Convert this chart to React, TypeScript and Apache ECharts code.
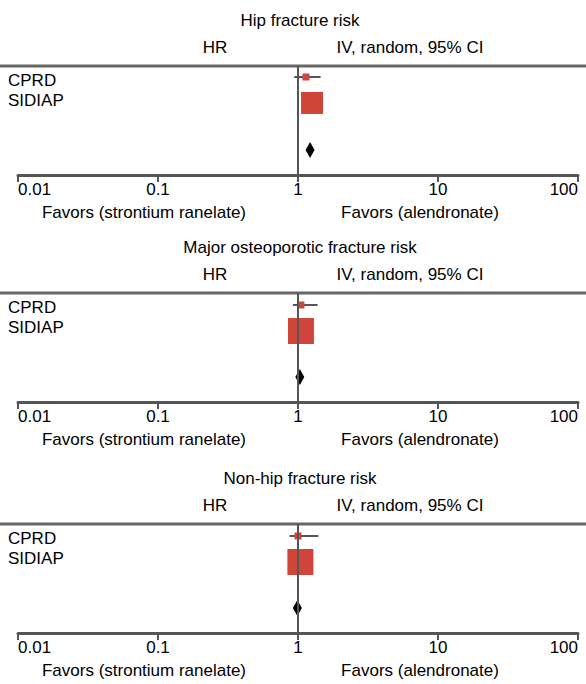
import React, { useEffect, useRef } from "react";
import * as echarts from "echarts";

const panelTitles = ["Hip fracture risk", "Major osteoporotic fracture risk", "Non-hip fracture risk"];
const studies = ["CPRD", "SIDIAP"];
// HR, lower CI, upper CI
const cprd = [[1.14, 0.94, 1.45], [1.05, 0.92, 1.38], [1.0, 0.87, 1.4]];
const sidiap = [1.26, 1.05, 1.04];
const sidiapSize = [22, 26, 26];
const pooled = [1.22, 1.03, 0.99];
const tickLabels = ["0.01", "0.1", "1", "10", "100"];

const tops = [66, 293, 524];
const H = 109;
const rowY = [[11, 37, 84], [12, 38, 84], [12, 38, 84]];
const font = "Arial, 'Liberation Sans', sans-serif";

export default function App() {
  const ref = useRef<HTMLDivElement>(null);
  useEffect(() => {
    const chart = echarts.init(ref.current!, null, { renderer: "svg" });
    const grids: any[] = [], xAxis: any[] = [], yAxis: any[] = [], series: any[] = [], graphic: any[] = [];
    tops.forEach((top, i) => {
      grids.push({ left: 18, right: 8, top, height: H });
      xAxis.push({
        type: "log", gridIndex: i, min: 0.01, max: 100, logBase: 10,
        axisLine: { onZero: false, lineStyle: { color: "#555", width: 3 } },
        axisTick: { show: true, length: 7, lineStyle: { color: "#555", width: 2 } },
        minorTick: { show: false }, splitLine: { show: false },
        axisLabel: { color: "#000", fontSize: 17, fontFamily: font, margin: 6,
          alignMinLabel: "left", alignMaxLabel: "right",
          formatter: (v: number) => tickLabels[Math.round(Math.log10(v)) + 2] },
      });
      yAxis.push({ type: "value", gridIndex: i, min: 0, max: H, inverse: true, show: false });
      const ys = rowY[i];
      series.push({
        type: "custom", xAxisIndex: i, yAxisIndex: i,
        data: [[cprd[i][0], ys[0], cprd[i][1], cprd[i][2]]],
        renderItem: (p: any, api: any) => {
          const c = api.coord([api.value(0), api.value(1)]);
          const l = api.coord([api.value(2), api.value(1)]);
          const r = api.coord([api.value(3), api.value(1)]);
          return { type: "group", children: [
            { type: "line", shape: { x1: l[0], y1: c[1], x2: r[0], y2: c[1] }, style: { stroke: "#555", lineWidth: 2 } },
            { type: "rect", shape: { x: c[0] - 3.5, y: c[1] - 3.5, width: 7, height: 7 }, style: { fill: "#d0453a" } },
          ] };
        },
        markLine: {
          silent: true, symbol: "none", label: { show: false },
          lineStyle: { color: "#555", width: 2, type: "solid" },
          data: [{ xAxis: 1 }],
        },
      });
      series.push({
        type: "scatter", xAxisIndex: i, yAxisIndex: i, symbol: "rect", symbolSize: sidiapSize[i],
        itemStyle: { color: "#d0453a", opacity: 1 }, data: [[sidiap[i], ys[1]]],
      });
      series.push({
        type: "scatter", xAxisIndex: i, yAxisIndex: i, symbol: "diamond", symbolSize: [9, 16],
        itemStyle: { color: "#000", opacity: 1 }, data: [[pooled[i], ys[2]]],
      });
      const ts = { fill: "#000", fontSize: 17, fontFamily: font };
      graphic.push(
        { type: "text", x: 300, y: top - 46, style: { ...ts, text: panelTitles[i], textAlign: "center", textVerticalAlign: "middle" } },
        { type: "text", x: 215, y: top - 19, style: { ...ts, text: "HR", textAlign: "center", textVerticalAlign: "middle" } },
        { type: "text", x: 410, y: top - 19, style: { ...ts, text: "IV, random, 95% CI", textAlign: "center", textVerticalAlign: "middle" } },
        { type: "line", shape: { x1: 0, y1: top, x2: 586, y2: top }, style: { stroke: "#666", lineWidth: 3 } },
        { type: "text", x: 8, y: top + 14, style: { ...ts, text: studies[0], textVerticalAlign: "middle" } },
        { type: "text", x: 8, y: top + 34, style: { ...ts, text: studies[1], textVerticalAlign: "middle" } },
        { type: "text", x: 144, y: top + H + 37, style: { ...ts, text: "Favors (strontium ranelate)", textAlign: "center", textVerticalAlign: "middle" } },
        { type: "text", x: 420, y: top + H + 37, style: { ...ts, text: "Favors (alendronate)", textAlign: "center", textVerticalAlign: "middle" } },
      );
    });
    chart.setOption({ animation: false, grid: grids, xAxis, yAxis, series, graphic });
    return () => chart.dispose();
  }, []);
  return <div ref={ref} style={{ width: 586, height: 684, position: "absolute", left: 0, top: 0, background: "#fff" }} />;
}
